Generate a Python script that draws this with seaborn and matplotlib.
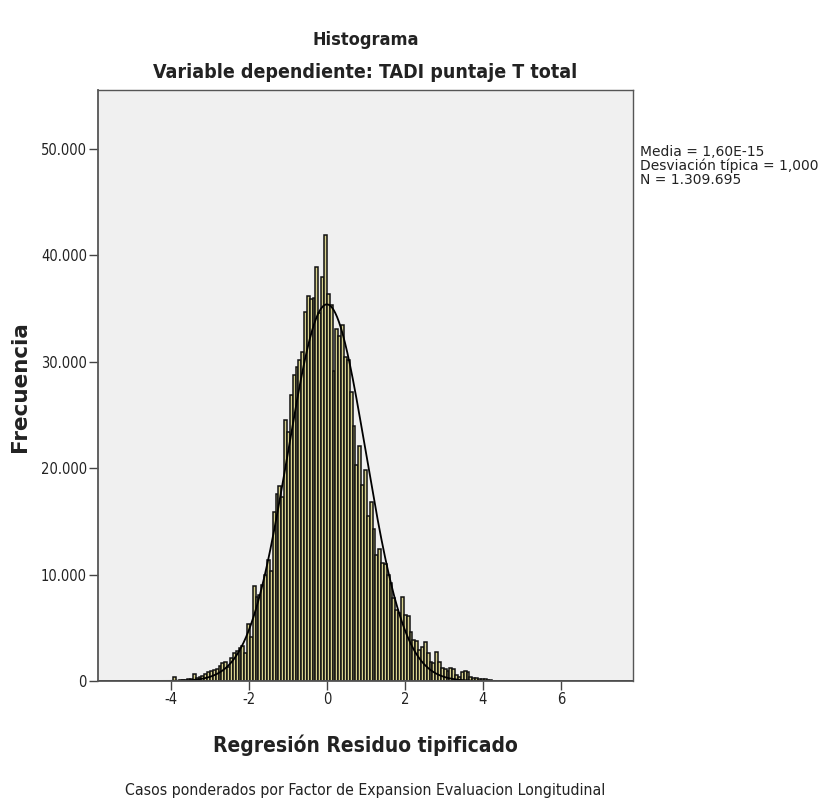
import numpy as np
import pandas as pd
import matplotlib
matplotlib.use("Agg")
import matplotlib.pyplot as plt
from matplotlib import font_manager
from matplotlib.ticker import FuncFormatter
import seaborn as sns

# ---------------- data ----------------
bin_width = 0.0731          # width of one histogram class (standardised residual units)
first_bin_index = -56       # first class starts at first_bin_index * bin_width
frequencies = [
    0, 20, 350, 30, 50, 100, 100, 150, 200, 700,
    300, 350, 500, 700, 800, 900, 1000, 1150, 1400, 1700,
    1800, 1300, 2200, 2600, 2800, 3100, 3300, 2600, 5400, 4100,
    8900, 7900, 8100, 9000, 10000, 11400, 10300, 15900, 17600, 18300,
    17300, 24500, 23400, 26900, 28800, 29500, 30200, 30900, 34700, 36200,
    35900, 36000, 38900, 34600, 38000, 41900,
    36400, 35300, 29100, 33100, 32400, 33500, 30500, 30200, 27200, 24000,
    20300, 22100, 18400, 19800, 15500, 16800, 14300, 11800, 12400, 11100,
    11000, 10000, 9200, 7800, 6700, 6400, 7900, 6200, 6100, 4600,
    3900, 3800, 2900, 3200, 3700, 2600, 1800, 1700, 2750, 1800,
    1200, 1100, 900, 1200, 1100, 550, 400, 800, 900, 800,
    400, 250, 250, 200, 200, 150, 100, 50, 30, 20,
]
stat_mean = 0.0
stat_sd = 1.0
normal_curve_peak = 35400   # height of the fitted normal curve at the mean
stat_labels = ["Media = 1,60E-15", "Desviación típica = 1,000", "N = 1.309.695"]
x_ticks = [-4, -2, 0, 2, 4, 6]
y_ticks = [0, 10000, 20000, 30000, 40000, 50000]

title = "Histograma"
subtitle = "Variable dependiente: TADI puntaje T total"
x_label = "Regresión Residuo tipificado"
y_label = "Frecuencia"
footer = "Casos ponderados por Factor de Expansion Evaluacion Longitudinal"

# ---------------- style ----------------
sns.set_theme(style="white")
plt.rcParams["font.family"] = ["DejaVu Sans"]
plt.rcParams["axes.unicode_minus"] = False
cond = "condensed" if any(f.name == "DejaVu Sans" and f.stretch in ("condensed", 300)
                          for f in font_manager.fontManager.ttflist) else "normal"

W, H = 831, 801
fig = plt.figure(figsize=(W / 100, H / 100), dpi=100)
L, R, T, B = 98, 633, 90, 681
ax = fig.add_axes([L / W, 1 - B / H, (R - L) / W, (B - T) / H])
ax.set_facecolor("#f0f0f0")

idx = np.arange(first_bin_index, first_bin_index + len(frequencies))
df = pd.DataFrame({"resid": (idx + 0.5) * bin_width, "freq": frequencies})
edges = [float(v) for v in np.append(idx, idx[-1] + 1) * bin_width]

sns.histplot(data=df, x="resid", weights="freq", bins=edges, ax=ax,
             color="#d8d28e", edgecolor="#111111", linewidth=1.1, alpha=1.0)

# fitted normal curve
xs = np.linspace(-6, 8, 900)
ys = normal_curve_peak * np.exp(-0.5 * ((xs - stat_mean) / stat_sd) ** 2)
ax.plot(xs, ys, color="black", linewidth=1.3)

ax.set_xlim(-5.87, 7.85)
ax.set_ylim(0, 55550)
ax.set_xticks(x_ticks)
ax.set_yticks(y_ticks)
ax.yaxis.set_major_formatter(FuncFormatter(lambda v, p: f"{v:,.0f}".replace(",", ".")))
ax.tick_params(axis="both", direction="out", length=6.5, width=1.0, color="#444444",
               labelsize=10.5, labelcolor="#222222", pad=1.5, bottom=True, left=True)
for lab in ax.get_xticklabels() + ax.get_yticklabels():
    lab.set_fontstretch(cond)
ax.set_xlabel("")
ax.set_ylabel("")
for side, sp in ax.spines.items():
    sp.set_visible(True)
    sp.set_color("#555555")
    sp.set_linewidth(1.3 if side in ("left", "bottom") else 1.0)

cx = (L + R) / 2 / W
kw = dict(ha="center", va="center", color="#222222", fontstretch=cond)
fig.text(cx, 1 - 40 / H, title, fontsize=13, fontweight="bold", **kw)
fig.text(cx, 1 - 72 / H, subtitle, fontsize=14, fontweight="bold", **kw)
fig.text(cx, 1 - 745 / H, x_label, fontsize=15, fontweight="bold", **kw)
fig.text(20 / W, 1 - 387 / H, y_label, ha="center", va="center", rotation=90, fontsize=15.5,
         fontweight="bold", color="#222222")
fig.text(cx, 1 - 790 / H, footer, fontsize=11.3, **kw)
fig.text(640 / W, 1 - 166 / H, "\n".join(stat_labels), ha="left", va="center", fontsize=10,
         linespacing=0.95, color="#222222")

fig.savefig("out.png", dpi=100, facecolor="white")
